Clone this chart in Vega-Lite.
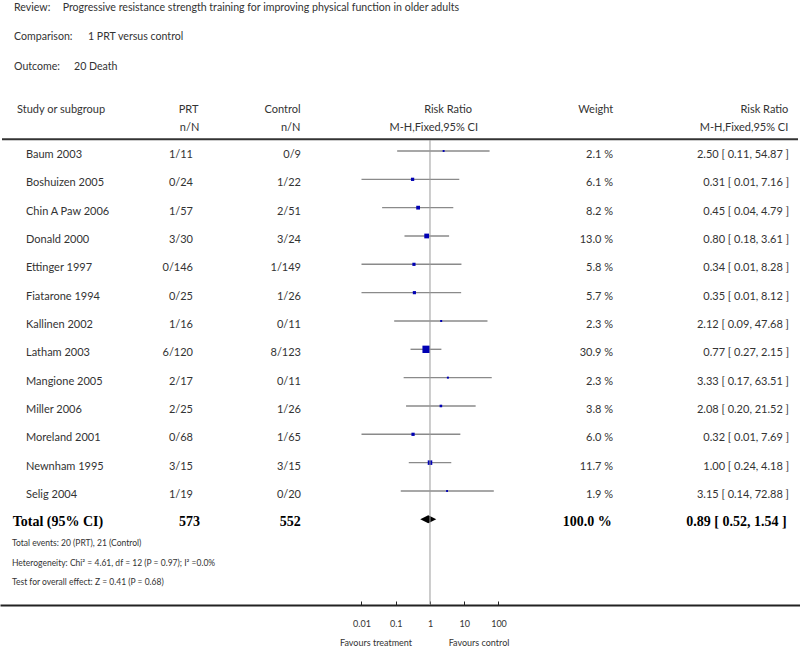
{
  "$schema": "https://vega.github.io/schema/vega-lite/v6.json",
  "width": 800,
  "height": 649,
  "autosize": {"type": "none"},
  "padding": 0,
  "background": "white",
  "config": {
    "view": {"stroke": null},
    "font": "Lato",
    "text": {"font": "Lato", "fontSize": 11, "fill": "#333", "baseline": "middle"}
  },
  "datasets": {
    "rows": [
      {"study": "Baum 2003", "kind": "study", "prt": "1/11", "ctrl": "0/9", "weight": 2.1, "weightLabel": "2.1 %", "rr": 2.5, "lo": 0.11, "hi": 54.87, "rrLabel": "2.50 [ 0.11, 54.87 ]"},
      {"study": "Boshuizen 2005", "kind": "study", "prt": "0/24", "ctrl": "1/22", "weight": 6.1, "weightLabel": "6.1 %", "rr": 0.31, "lo": 0.01, "hi": 7.16, "rrLabel": "0.31 [ 0.01, 7.16 ]"},
      {"study": "Chin A Paw 2006", "kind": "study", "prt": "1/57", "ctrl": "2/51", "weight": 8.2, "weightLabel": "8.2 %", "rr": 0.45, "lo": 0.04, "hi": 4.79, "rrLabel": "0.45 [ 0.04, 4.79 ]"},
      {"study": "Donald 2000", "kind": "study", "prt": "3/30", "ctrl": "3/24", "weight": 13.0, "weightLabel": "13.0 %", "rr": 0.8, "lo": 0.18, "hi": 3.61, "rrLabel": "0.80 [ 0.18, 3.61 ]"},
      {"study": "Ettinger 1997", "kind": "study", "prt": "0/146", "ctrl": "1/149", "weight": 5.8, "weightLabel": "5.8 %", "rr": 0.34, "lo": 0.01, "hi": 8.28, "rrLabel": "0.34 [ 0.01, 8.28 ]"},
      {"study": "Fiatarone 1994", "kind": "study", "prt": "0/25", "ctrl": "1/26", "weight": 5.7, "weightLabel": "5.7 %", "rr": 0.35, "lo": 0.01, "hi": 8.12, "rrLabel": "0.35 [ 0.01, 8.12 ]"},
      {"study": "Kallinen 2002", "kind": "study", "prt": "1/16", "ctrl": "0/11", "weight": 2.3, "weightLabel": "2.3 %", "rr": 2.12, "lo": 0.09, "hi": 47.68, "rrLabel": "2.12 [ 0.09, 47.68 ]"},
      {"study": "Latham 2003", "kind": "study", "prt": "6/120", "ctrl": "8/123", "weight": 30.9, "weightLabel": "30.9 %", "rr": 0.77, "lo": 0.27, "hi": 2.15, "rrLabel": "0.77 [ 0.27, 2.15 ]"},
      {"study": "Mangione 2005", "kind": "study", "prt": "2/17", "ctrl": "0/11", "weight": 2.3, "weightLabel": "2.3 %", "rr": 3.33, "lo": 0.17, "hi": 63.51, "rrLabel": "3.33 [ 0.17, 63.51 ]"},
      {"study": "Miller 2006", "kind": "study", "prt": "2/25", "ctrl": "1/26", "weight": 3.8, "weightLabel": "3.8 %", "rr": 2.08, "lo": 0.2, "hi": 21.52, "rrLabel": "2.08 [ 0.20, 21.52 ]"},
      {"study": "Moreland 2001", "kind": "study", "prt": "0/68", "ctrl": "1/65", "weight": 6.0, "weightLabel": "6.0 %", "rr": 0.32, "lo": 0.01, "hi": 7.69, "rrLabel": "0.32 [ 0.01, 7.69 ]"},
      {"study": "Newnham 1995", "kind": "study", "prt": "3/15", "ctrl": "3/15", "weight": 11.7, "weightLabel": "11.7 %", "rr": 1.0, "lo": 0.24, "hi": 4.18, "rrLabel": "1.00 [ 0.24, 4.18 ]"},
      {"study": "Selig 2004", "kind": "study", "prt": "1/19", "ctrl": "0/20", "weight": 1.9, "weightLabel": "1.9 %", "rr": 3.15, "lo": 0.14, "hi": 72.88, "rrLabel": "3.15 [ 0.14, 72.88 ]"},
      {"study": "Total (95% CI)", "kind": "total", "prt": "573", "ctrl": "552", "weight": 100.0, "weightLabel": "100.0 %", "rr": 0.89, "lo": 0.52, "hi": 1.54, "rrLabel": "0.89 [ 0.52, 1.54 ]"}
    ]
  },
  "layer": [
    {
      "data": {"values": [{}]},
      "layer": [
        {"mark": {"type": "text", "align": "left", "fontSize": 10.6, "text": "Review:"}, "encoding": {"x": {"datum": 14, "type": "quantitative", "scale": {"domain": [0, 800], "range": [0, 800], "nice": false, "zero": false}, "axis": null}, "y": {"datum": 8.3, "type": "quantitative", "scale": {"domain": [0, 649], "range": [0, 649], "nice": false, "zero": false}, "axis": null}}},
        {"mark": {"type": "text", "align": "left", "fontSize": 10.6, "text": "Progressive resistance strength training for improving physical function in older adults"}, "encoding": {"x": {"datum": 62.7, "type": "quantitative", "scale": {"domain": [0, 800], "range": [0, 800], "nice": false, "zero": false}, "axis": null}, "y": {"datum": 8.3, "type": "quantitative", "scale": {"domain": [0, 649], "range": [0, 649], "nice": false, "zero": false}, "axis": null}}},
        {"mark": {"type": "text", "align": "left", "fontSize": 10.6, "text": "Comparison:"}, "encoding": {"x": {"datum": 14, "type": "quantitative", "scale": {"domain": [0, 800], "range": [0, 800], "nice": false, "zero": false}, "axis": null}, "y": {"datum": 36.7, "type": "quantitative", "scale": {"domain": [0, 649], "range": [0, 649], "nice": false, "zero": false}, "axis": null}}},
        {"mark": {"type": "text", "align": "left", "fontSize": 10.6, "text": "1 PRT versus control"}, "encoding": {"x": {"datum": 88, "type": "quantitative", "scale": {"domain": [0, 800], "range": [0, 800], "nice": false, "zero": false}, "axis": null}, "y": {"datum": 36.7, "type": "quantitative", "scale": {"domain": [0, 649], "range": [0, 649], "nice": false, "zero": false}, "axis": null}}},
        {"mark": {"type": "text", "align": "left", "fontSize": 10.6, "text": "Outcome:"}, "encoding": {"x": {"datum": 14, "type": "quantitative", "scale": {"domain": [0, 800], "range": [0, 800], "nice": false, "zero": false}, "axis": null}, "y": {"datum": 66.7, "type": "quantitative", "scale": {"domain": [0, 649], "range": [0, 649], "nice": false, "zero": false}, "axis": null}}},
        {"mark": {"type": "text", "align": "left", "fontSize": 10.6, "text": "20 Death"}, "encoding": {"x": {"datum": 74, "type": "quantitative", "scale": {"domain": [0, 800], "range": [0, 800], "nice": false, "zero": false}, "axis": null}, "y": {"datum": 66.7, "type": "quantitative", "scale": {"domain": [0, 649], "range": [0, 649], "nice": false, "zero": false}, "axis": null}}},
        {"mark": {"type": "text", "align": "left", "text": "Study or subgroup"}, "encoding": {"x": {"datum": 17, "type": "quantitative", "scale": {"domain": [0, 800], "range": [0, 800], "nice": false, "zero": false}, "axis": null}, "y": {"datum": 110, "type": "quantitative", "scale": {"domain": [0, 649], "range": [0, 649], "nice": false, "zero": false}, "axis": null}}},
        {"mark": {"type": "text", "align": "right", "text": "PRT"}, "encoding": {"x": {"datum": 198.5, "type": "quantitative", "scale": {"domain": [0, 800], "range": [0, 800], "nice": false, "zero": false}, "axis": null}, "y": {"datum": 110, "type": "quantitative", "scale": {"domain": [0, 649], "range": [0, 649], "nice": false, "zero": false}, "axis": null}}},
        {"mark": {"type": "text", "align": "right", "text": "n/N"}, "encoding": {"x": {"datum": 199.3, "type": "quantitative", "scale": {"domain": [0, 800], "range": [0, 800], "nice": false, "zero": false}, "axis": null}, "y": {"datum": 128.3, "type": "quantitative", "scale": {"domain": [0, 649], "range": [0, 649], "nice": false, "zero": false}, "axis": null}}},
        {"mark": {"type": "text", "align": "right", "text": "Control"}, "encoding": {"x": {"datum": 300.5, "type": "quantitative", "scale": {"domain": [0, 800], "range": [0, 800], "nice": false, "zero": false}, "axis": null}, "y": {"datum": 110, "type": "quantitative", "scale": {"domain": [0, 649], "range": [0, 649], "nice": false, "zero": false}, "axis": null}}},
        {"mark": {"type": "text", "align": "right", "text": "n/N"}, "encoding": {"x": {"datum": 300.5, "type": "quantitative", "scale": {"domain": [0, 800], "range": [0, 800], "nice": false, "zero": false}, "axis": null}, "y": {"datum": 128.3, "type": "quantitative", "scale": {"domain": [0, 649], "range": [0, 649], "nice": false, "zero": false}, "axis": null}}},
        {"mark": {"type": "text", "align": "right", "text": "Risk Ratio"}, "encoding": {"x": {"datum": 472, "type": "quantitative", "scale": {"domain": [0, 800], "range": [0, 800], "nice": false, "zero": false}, "axis": null}, "y": {"datum": 110, "type": "quantitative", "scale": {"domain": [0, 649], "range": [0, 649], "nice": false, "zero": false}, "axis": null}}},
        {"mark": {"type": "text", "align": "right", "text": "M-H,Fixed,95% CI"}, "encoding": {"x": {"datum": 478, "type": "quantitative", "scale": {"domain": [0, 800], "range": [0, 800], "nice": false, "zero": false}, "axis": null}, "y": {"datum": 128.3, "type": "quantitative", "scale": {"domain": [0, 649], "range": [0, 649], "nice": false, "zero": false}, "axis": null}}},
        {"mark": {"type": "text", "align": "right", "text": "Weight"}, "encoding": {"x": {"datum": 613.3, "type": "quantitative", "scale": {"domain": [0, 800], "range": [0, 800], "nice": false, "zero": false}, "axis": null}, "y": {"datum": 110, "type": "quantitative", "scale": {"domain": [0, 649], "range": [0, 649], "nice": false, "zero": false}, "axis": null}}},
        {"mark": {"type": "text", "align": "right", "text": "Risk Ratio"}, "encoding": {"x": {"datum": 788.3, "type": "quantitative", "scale": {"domain": [0, 800], "range": [0, 800], "nice": false, "zero": false}, "axis": null}, "y": {"datum": 110, "type": "quantitative", "scale": {"domain": [0, 649], "range": [0, 649], "nice": false, "zero": false}, "axis": null}}},
        {"mark": {"type": "text", "align": "right", "text": "M-H,Fixed,95% CI"}, "encoding": {"x": {"datum": 788.3, "type": "quantitative", "scale": {"domain": [0, 800], "range": [0, 800], "nice": false, "zero": false}, "axis": null}, "y": {"datum": 128.3, "type": "quantitative", "scale": {"domain": [0, 649], "range": [0, 649], "nice": false, "zero": false}, "axis": null}}},
        {"mark": {"type": "rule", "color": "#333", "strokeWidth": 2}, "encoding": {"x": {"datum": 2, "type": "quantitative", "scale": {"domain": [0, 800], "range": [0, 800], "nice": false, "zero": false}, "axis": null}, "x2": {"datum": 798}, "y": {"datum": 139.3, "type": "quantitative", "scale": {"domain": [0, 649], "range": [0, 649], "nice": false, "zero": false}, "axis": null}}},
        {"mark": {"type": "text", "align": "left", "fontSize": 8.5, "text": "Total events: 20 (PRT), 21 (Control)"}, "encoding": {"x": {"datum": 12, "type": "quantitative", "scale": {"domain": [0, 800], "range": [0, 800], "nice": false, "zero": false}, "axis": null}, "y": {"datum": 543, "type": "quantitative", "scale": {"domain": [0, 649], "range": [0, 649], "nice": false, "zero": false}, "axis": null}}},
        {"mark": {"type": "text", "align": "left", "fontSize": 8.5, "text": "Heterogeneity: Chi² = 4.61, df = 12 (P = 0.97); I² =0.0%"}, "encoding": {"x": {"datum": 12, "type": "quantitative", "scale": {"domain": [0, 800], "range": [0, 800], "nice": false, "zero": false}, "axis": null}, "y": {"datum": 563, "type": "quantitative", "scale": {"domain": [0, 649], "range": [0, 649], "nice": false, "zero": false}, "axis": null}}},
        {"mark": {"type": "text", "align": "left", "fontSize": 8.5, "text": "Test for overall effect: Z = 0.41 (P = 0.68)"}, "encoding": {"x": {"datum": 12, "type": "quantitative", "scale": {"domain": [0, 800], "range": [0, 800], "nice": false, "zero": false}, "axis": null}, "y": {"datum": 582, "type": "quantitative", "scale": {"domain": [0, 649], "range": [0, 649], "nice": false, "zero": false}, "axis": null}}},
        {"mark": {"type": "text", "align": "center", "fontSize": 9, "text": "Favours treatment"}, "encoding": {"x": {"datum": 376, "type": "quantitative", "scale": {"domain": [0, 800], "range": [0, 800], "nice": false, "zero": false}, "axis": null}, "y": {"datum": 643, "type": "quantitative", "scale": {"domain": [0, 649], "range": [0, 649], "nice": false, "zero": false}, "axis": null}}},
        {"mark": {"type": "text", "align": "center", "fontSize": 9, "text": "Favours control"}, "encoding": {"x": {"datum": 479, "type": "quantitative", "scale": {"domain": [0, 800], "range": [0, 800], "nice": false, "zero": false}, "axis": null}, "y": {"datum": 643, "type": "quantitative", "scale": {"domain": [0, 649], "range": [0, 649], "nice": false, "zero": false}, "axis": null}}}
      ]
    },
    {
      "data": {"name": "rows"},
      "encoding": {
        "y": {"field": "study", "type": "nominal", "scale": {"type": "point", "domain": ["Baum 2003", "Boshuizen 2005", "Chin A Paw 2006", "Donald 2000", "Ettinger 1997", "Fiatarone 1994", "Kallinen 2002", "Latham 2003", "Mangione 2005", "Miller 2006", "Moreland 2001", "Newnham 1995", "Selig 2004", "Total (95% CI)"], "range": [151, 519.3], "padding": 0}, "axis": null}
      },
      "layer": [
        {"transform": [{"filter": "datum.kind === 'study'"}], "mark": {"type": "text", "align": "left", "dy": 4}, "encoding": {"x": {"datum": 26, "type": "quantitative", "scale": {"domain": [0, 800], "range": [0, 800], "nice": false, "zero": false}, "axis": null}, "text": {"field": "study"}}},
        {"transform": [{"filter": "datum.kind === 'study'"}], "mark": {"type": "text", "align": "right", "dy": 4}, "encoding": {"x": {"datum": 193, "type": "quantitative", "scale": {"domain": [0, 800], "range": [0, 800], "nice": false, "zero": false}, "axis": null}, "text": {"field": "prt"}}},
        {"transform": [{"filter": "datum.kind === 'study'"}], "mark": {"type": "text", "align": "right", "dy": 4}, "encoding": {"x": {"datum": 301, "type": "quantitative", "scale": {"domain": [0, 800], "range": [0, 800], "nice": false, "zero": false}, "axis": null}, "text": {"field": "ctrl"}}},
        {"transform": [{"filter": "datum.kind === 'study'"}], "mark": {"type": "text", "align": "right", "dy": 4}, "encoding": {"x": {"datum": 613, "type": "quantitative", "scale": {"domain": [0, 800], "range": [0, 800], "nice": false, "zero": false}, "axis": null}, "text": {"field": "weightLabel"}}},
        {"transform": [{"filter": "datum.kind === 'study'"}], "mark": {"type": "text", "align": "right", "dy": 4}, "encoding": {"x": {"datum": 789, "type": "quantitative", "scale": {"domain": [0, 800], "range": [0, 800], "nice": false, "zero": false}, "axis": null}, "text": {"field": "rrLabel"}}},
        {"transform": [{"filter": "datum.kind === 'total'"}], "mark": {"type": "text", "align": "left", "dy": 3, "font": "Liberation Serif", "fontWeight": "bold", "fontSize": 14, "fill": "#000"}, "encoding": {"x": {"datum": 12.7, "type": "quantitative", "scale": {"domain": [0, 800], "range": [0, 800], "nice": false, "zero": false}, "axis": null}, "text": {"field": "study"}}},
        {"transform": [{"filter": "datum.kind === 'total'"}], "mark": {"type": "text", "align": "right", "dy": 3, "font": "Liberation Serif", "fontWeight": "bold", "fontSize": 14, "fill": "#000"}, "encoding": {"x": {"datum": 200, "type": "quantitative", "scale": {"domain": [0, 800], "range": [0, 800], "nice": false, "zero": false}, "axis": null}, "text": {"field": "prt"}}},
        {"transform": [{"filter": "datum.kind === 'total'"}], "mark": {"type": "text", "align": "right", "dy": 3, "font": "Liberation Serif", "fontWeight": "bold", "fontSize": 14, "fill": "#000"}, "encoding": {"x": {"datum": 300.7, "type": "quantitative", "scale": {"domain": [0, 800], "range": [0, 800], "nice": false, "zero": false}, "axis": null}, "text": {"field": "ctrl"}}},
        {"transform": [{"filter": "datum.kind === 'total'"}], "mark": {"type": "text", "align": "right", "dy": 3, "font": "Liberation Serif", "fontWeight": "bold", "fontSize": 14, "fill": "#000"}, "encoding": {"x": {"datum": 611.7, "type": "quantitative", "scale": {"domain": [0, 800], "range": [0, 800], "nice": false, "zero": false}, "axis": null}, "text": {"field": "weightLabel"}}},
        {"transform": [{"filter": "datum.kind === 'total'"}], "mark": {"type": "text", "align": "right", "dy": 3, "font": "Liberation Serif", "fontWeight": "bold", "fontSize": 14, "fill": "#000"}, "encoding": {"x": {"datum": 786.7, "type": "quantitative", "scale": {"domain": [0, 800], "range": [0, 800], "nice": false, "zero": false}, "axis": null}, "text": {"field": "rrLabel"}}}
      ]
    },
    {
      "data": {"name": "rows"},
      "encoding": {
        "y": {"field": "study", "type": "nominal", "scale": {"type": "point", "domain": ["Baum 2003", "Boshuizen 2005", "Chin A Paw 2006", "Donald 2000", "Ettinger 1997", "Fiatarone 1994", "Kallinen 2002", "Latham 2003", "Mangione 2005", "Miller 2006", "Moreland 2001", "Newnham 1995", "Selig 2004", "Total (95% CI)"], "range": [151, 519.3], "padding": 0}, "axis": null}
      },
      "layer": [
        {"transform": [{"filter": "datum.kind === 'study'"}], "mark": {"type": "rule", "color": "#8a8a8a", "strokeWidth": 1.4}, "encoding": {"x": {"field": "lo", "type": "quantitative", "scale": {"type": "log", "domain": [2.788e-13, 6.353e10], "nice": false}, "axis": {"orient": "bottom", "offset": -44, "values": [0.01, 0.1, 1, 10, 100], "format": "~g", "title": null, "grid": false, "domainColor": "#222", "domainWidth": 2, "tickColor": "#222", "tickWidth": 1, "tickSize": -4, "labelPadding": 18, "labelFont": "Lato", "labelFontSize": 9, "labelColor": "#333", "labelFlush": false, "labelOverlap": false}}, "x2": {"field": "hi"}}},
        {"transform": [{"filter": "datum.kind === 'study'"}], "mark": {"type": "square", "filled": true, "color": "#0000b4", "opacity": 1}, "encoding": {"x": {"field": "rr", "type": "quantitative"}, "size": {"field": "weight", "type": "quantitative", "scale": {"domain": [0, 30.9], "range": [0, 54]}, "legend": null}}},
        {"transform": [{"filter": "datum.kind === 'total'"}], "mark": {"type": "point", "filled": true, "color": "#000", "opacity": 1, "shape": "M-1,0L0,-0.5L1,0L0,0.5Z", "size": 256}, "encoding": {"x": {"field": "rr", "type": "quantitative"}}}
      ]
    },
    {
      "data": {"values": [{}]},
      "mark": {"type": "rule", "color": "#9a9a9a", "strokeWidth": 1},
      "encoding": {
        "x": {"datum": 1, "type": "quantitative", "scale": {"type": "log", "domain": [2.788e-13, 6.353e10], "nice": false}, "axis": null},
        "y": {"datum": 140, "type": "quantitative", "scale": {"domain": [0, 649], "range": [0, 649], "nice": false, "zero": false}, "axis": null},
        "y2": {"datum": 605}
      }
    }
  ],
  "resolve": {"scale": {"x": "independent", "y": "independent", "size": "independent"}, "axis": {"x": "independent", "y": "independent"}}
}
